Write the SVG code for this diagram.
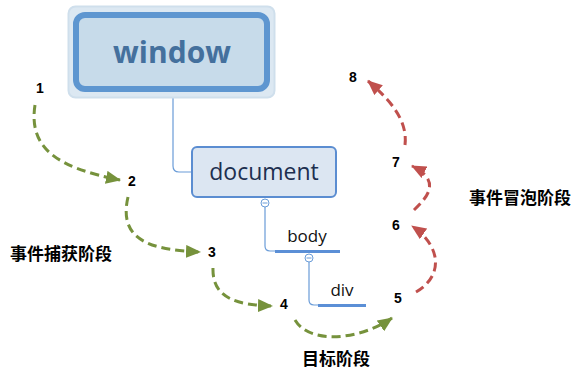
<svg xmlns="http://www.w3.org/2000/svg" width="585" height="386" viewBox="0 0 585 386">
<style>
.num{font-family:"Liberation Sans",Arial,sans-serif;font-weight:bold;font-size:14px;fill:#000;text-anchor:middle}
.cn{font-family:"Noto Sans CJK SC","Noto Sans",sans-serif;font-weight:bold;font-size:17px;fill:#000}
.tree{fill:none;stroke:#6a9cd8;stroke-width:1.2}
.ul{stroke:#5b8fd6;stroke-width:3}
.lbl{font-family:"Open Sans","DejaVu Sans",sans-serif;font-size:17px;fill:#111;text-anchor:middle}
.g{fill:none;stroke:#76923c;stroke-width:3;stroke-dasharray:9 5}
.r{fill:none;stroke:#c0504d;stroke-width:3;stroke-dasharray:9 5}
.minus{fill:#fff;stroke:#6a9cd8;stroke-width:1}
</style>
<defs>
<marker id="ag" viewBox="0 0 15 13" refX="14" refY="6.5" markerWidth="15" markerHeight="13" markerUnits="userSpaceOnUse" orient="auto"><path d="M0,0 L15,6.5 L0,13 z" fill="#76923c"/></marker>
<marker id="ar" viewBox="0 0 15 13" refX="14" refY="6.5" markerWidth="15" markerHeight="13" markerUnits="userSpaceOnUse" orient="auto"><path d="M0,0 L15,6.5 L0,13 z" fill="#c0504d"/></marker>
</defs>
<rect width="585" height="386" fill="#fff"/>
<g id="connectors">
<path class="tree" d="M173,92 V166 Q173,172 179,172 H192"/>
<path class="tree" d="M265,207 V246 Q265,251 270,251 H276"/>
<line class="ul" x1="275" y1="251.5" x2="340" y2="251.5"/>
<path class="tree" d="M309,262 V300 Q309,305 314,305 H319"/>
<line class="ul" x1="318" y1="305.5" x2="366" y2="305.5"/>
<circle class="minus" cx="265" cy="203" r="4"/>
<line x1="262.5" y1="203" x2="267.5" y2="203" stroke="#6a9cd8" stroke-width="1"/>
<circle class="minus" cx="309" cy="258" r="4"/>
<line x1="306.5" y1="258" x2="311.5" y2="258" stroke="#6a9cd8" stroke-width="1"/>
<path class="g" d="M35,105 C28,150 60,168 120,180" marker-end="url(#ag)"/>
<path class="g" d="M128,197 C118,240 150,250 200,252" marker-end="url(#ag)"/>
<path class="g" d="M213,268 C212,300 240,305 272,306" marker-end="url(#ag)"/>
<path class="g" d="M295,320 C310,345 360,340 392,318" marker-end="url(#ag)"/>
<path class="r" d="M416,292 C445,275 440,245 412,226" marker-end="url(#ar)"/>
<path class="r" d="M414,210 C430,195 440,180 412,166" marker-end="url(#ar)"/>
<path class="r" d="M405,145 C408,120 390,100 368,81" marker-end="url(#ar)"/>
</g>
<g id="window">
<rect x="68.5" y="6.5" width="206" height="91" rx="7" fill="#dce8f2" stroke="#cfdfec" stroke-width="2"/>
<rect x="76" y="15" width="191" height="74" rx="9" fill="#c7dbea" stroke="#5e96d0" stroke-width="6"/>
<text x="172" y="63" text-anchor="middle" font-family="'Open Sans','DejaVu Sans',sans-serif" font-weight="bold" font-size="30" fill="#44709d">window</text>
</g>
<g id="document">
<rect x="192" y="147" width="144" height="50" rx="5" fill="#dce6f2" stroke="#5b8dd1" stroke-width="2"/>
<text x="264" y="180" text-anchor="middle" font-family="'Open Sans','DejaVu Sans',sans-serif" font-size="23" fill="#1c2f50">document</text>
</g>
<g id="body"><text class="lbl" x="307" y="242">body</text></g>
<g id="div"><text class="lbl" x="342" y="296">div</text></g>
<g id="labels">
<text class="num" x="40" y="93">1</text>
<text class="num" x="132" y="186">2</text>
<text class="num" x="212" y="257">3</text>
<text class="num" x="284" y="309">4</text>
<text class="num" x="398" y="303">5</text>
<text class="num" x="396" y="230">6</text>
<text class="num" x="396" y="167">7</text>
<text class="num" x="353" y="82">8</text>
<text class="cn" x="10" y="260">事件捕获阶段</text>
<text class="cn" x="469" y="204">事件冒泡阶段</text>
<text class="cn" x="302" y="365" font-size="16.5">目标阶段</text>
</g>
</svg>
